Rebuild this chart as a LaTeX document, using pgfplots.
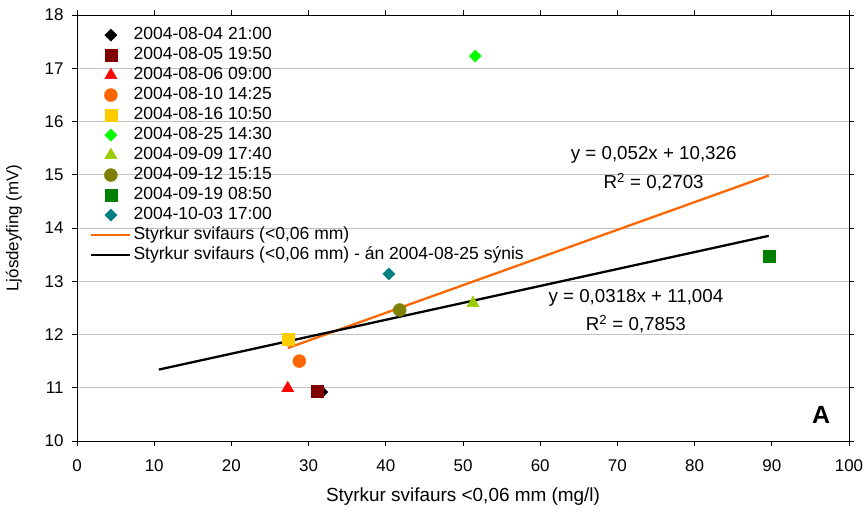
\documentclass[border=0pt]{standalone}
\usepackage{pgfplots}
\pgfplotsset{compat=1.18}
\usepackage{fontspec}
\setmainfont{Liberation Sans}

\definecolor{cDarkRed}{HTML}{800000}
\definecolor{cRed}{HTML}{FF0000}
\definecolor{cOrange}{HTML}{FF6600}
\definecolor{cYellow}{HTML}{FFCC00}
\definecolor{cLime}{HTML}{00FF00}
\definecolor{cYGreen}{HTML}{99CC00}
\definecolor{cOlive}{HTML}{808000}
\definecolor{cGreen}{HTML}{008000}
\definecolor{cTeal}{HTML}{008080}
\definecolor{cGrid}{HTML}{C0C0C0}

\begin{document}
\begin{tikzpicture}
\useasboundingbox (-77bp,-76bp) rectangle (791bp,441bp);
\begin{axis}[
    scale only axis,
    width=772bp, height=426bp,
    xmin=0, xmax=100, ymin=10, ymax=18,
    xtick={0,10,...,100}, ytick={10,11,...,18},
    tick align=outside, major tick length=5bp,
    tick style={black, line width=0.8pt},
    axis line style={black, line width=1pt},
    ymajorgrids, grid style={cGrid, line width=0.6pt},
    /pgf/number format/assume math mode=true,
    ticklabel style={font=\fontsize{17}{17}\selectfont},
    xticklabel style={yshift=-10bp},
    yticklabel style={xshift=-5bp},
    xlabel={Styrkur svifaurs <0,06 mm (mg/l)},
    ylabel={Ljósdeyfing (mV)},
    xlabel style={font=\fontsize{19}{19}\selectfont, at={(axis description cs:0.5,-0.131)}, anchor=center},
    ylabel style={font=\fontsize{17}{17}\selectfont, at={(axis description cs:-0.0816,0.5)}, anchor=center},
    legend cell align=left,
    legend style={at={(axis description cs:0.013,0.978)}, anchor=north west,
        draw=none, fill=none, font=\fontsize{17.6}{17.6}\selectfont,
        row sep=3bp, nodes={inner ysep=0pt, text height=13bp, text depth=4bp}},
    legend image code/.code={\draw[mark repeat=2,mark phase=2,#1]
        plot coordinates {(0bp,0bp) (19.5bp,0bp) (39bp,0bp)};},
    clip=false,
]
\addplot[only marks, mark=square*, mark size=4.3bp, mark options={rotate=45, fill=black, draw=black}] coordinates {(31.7,10.92)};
\addlegendentry{2004-08-04 21:00}
\addplot[only marks, mark=square*, mark size=6bp, mark options={fill=cDarkRed, draw=cDarkRed}] coordinates {(31.1,10.93)};
\addlegendentry{2004-08-05 19:50}
\addplot[only marks, mark=triangle*, mark size=7bp, mark options={fill=cRed, draw=cRed}] coordinates {(27.3,10.99)};
\addlegendentry{2004-08-06 09:00}
\addplot[only marks, mark=*, mark size=6.5bp, mark options={fill=cOrange, draw=cOrange}] coordinates {(28.8,11.50)};
\addlegendentry{2004-08-10 14:25}
\addplot[only marks, mark=square*, mark size=6bp, mark options={fill=cYellow, draw=cYellow}] coordinates {(27.3,11.92)};
\addlegendentry{2004-08-16 10:50}
\addplot[only marks, mark=square*, mark size=4.3bp, mark options={rotate=45, fill=cLime, draw=cLime}] coordinates {(51.6,17.23)};
\addlegendentry{2004-08-25 14:30}
\addplot[only marks, mark=triangle*, mark size=7bp, mark options={fill=cYGreen, draw=cYGreen}] coordinates {(51.3,12.59)};
\addlegendentry{2004-09-09 17:40}
\addplot[only marks, mark=*, mark size=6.5bp, mark options={fill=cOlive, draw=cOlive}] coordinates {(41.8,12.46)};
\addlegendentry{2004-09-12 15:15}
\addplot[only marks, mark=square*, mark size=6bp, mark options={fill=cGreen, draw=cGreen}] coordinates {(89.6,13.47)};
\addlegendentry{2004-09-19 08:50}
\addplot[only marks, mark=square*, mark size=4.3bp, mark options={rotate=45, fill=cTeal, draw=cTeal}] coordinates {(40.4,13.14)};
\addlegendentry{2004-10-03 17:00}
% trend lines
\addplot[cOrange, line width=2.3pt, no marks] coordinates {(27.3,11.746) (89.6,14.985)};
\addlegendentry{Styrkur svifaurs (<0,06 mm)}
\addplot[black, line width=2.3pt, no marks] coordinates {(10.6,11.341) (89.6,13.853)};
\addlegendentry{Styrkur svifaurs (<0,06 mm) - án 2004-08-25 sýnis}

\node[font=\fontsize{18.8}{18.8}\selectfont] at (axis cs:74.7,15.37) {y = 0,052x + 10,326};
\node[font=\fontsize{18.8}{18.8}\selectfont] at (axis cs:74.7,14.86) {R\textsuperscript{2} = 0,2703};
\node[font=\fontsize{18.8}{18.8}\selectfont] at (axis cs:72.4,12.69) {y = 0,0318x + 11,004};
\node[font=\fontsize{18.8}{18.8}\selectfont] at (axis cs:72.4,12.20) {R\textsuperscript{2} = 0,7853};
\node[font=\fontsize{25}{25}\selectfont\bfseries] at (axis cs:96.4,10.49) {A};
\end{axis}
\end{tikzpicture}
\end{document}
